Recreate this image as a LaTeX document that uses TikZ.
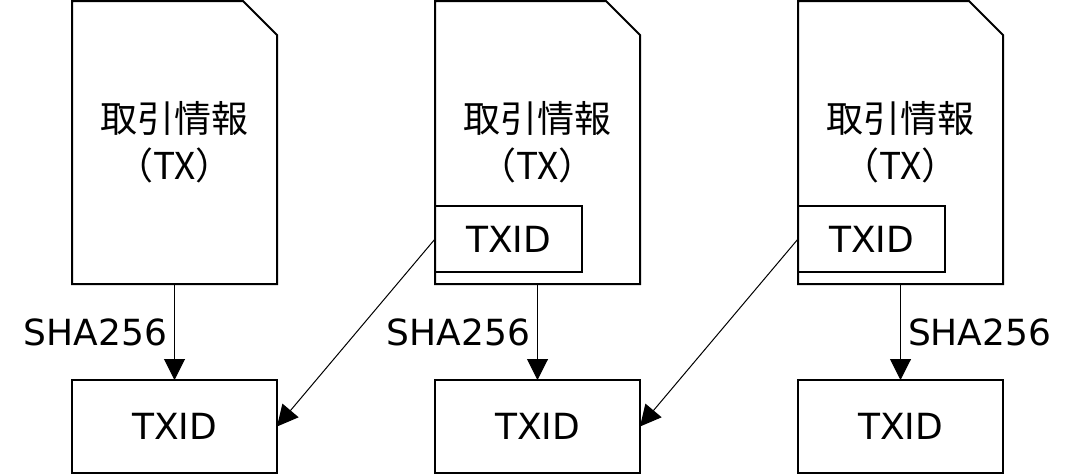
\documentclass[tikz,border=0pt]{standalone}
\usepackage{fontspec}
\setmainfont{DejaVu Sans}
\newfontfamily\jpfont{Noto Sans CJK JP}
\usetikzlibrary{arrows.meta,positioning}
\tikzset{
  doc/.style={outer sep=0pt,inner sep=0pt,
    minimum width=205pt,minimum height=283pt,align=center,
    font=\jpfont\fontsize{37}{47}\selectfont},
  outline/.style={draw,line width=2pt,line join=miter},
  idbox/.style={draw,line width=2pt,outer sep=0pt,inner sep=0pt,
    minimum width=147pt,minimum height=66pt,font=\fontsize{36}{43}\selectfont},
  txbox/.style={draw,line width=2pt,outer sep=0pt,inner sep=0pt,
    minimum width=205pt,minimum height=93pt,font=\fontsize{36}{43}\selectfont},
  flow/.style={-{Triangle[length=21pt,width=21pt]},line width=1pt},
  note/.style={font=\fontsize{36}{43}\selectfont,inner sep=7pt}
}
\begin{document}
\begin{tikzpicture}[x=1pt,y=-1pt,node distance=96pt and 158pt]
  \useasboundingbox (0,0) rectangle (1076,475);
  \node[doc] (doc1) at (174.5,142.5) {取引情報\\（TX）};
  \node[doc, right=of doc1] (doc2) {取引情報\\（TX）};
  \node[doc, right=of doc2] (doc3) {取引情報\\（TX）};
  \foreach \d in {doc1,doc2,doc3}
    \draw[outline] (\d.south west) |- ([xshift=-34pt]\d.north east)
      -- ([yshift=-34pt]\d.north east) -- (\d.south east) -- cycle;
  \node[idbox, above right=12pt and 0pt of doc2.south west] (in2) {TXID};
  \node[idbox, above right=12pt and 0pt of doc3.south west] (in3) {TXID};
  \node[txbox, below=of doc1] (tx1) {TXID};
  \node[txbox, below=of doc2] (tx2) {TXID};
  \node[txbox, below=of doc3] (tx3) {TXID};
  \draw[flow] (doc1) -- node[note,left]{SHA256} (tx1);
  \draw[flow] (doc2) -- node[note,left]{SHA256} (tx2);
  \draw[flow] (doc3) -- node[note,right]{SHA256} (tx3);
  \draw[flow] (in2.west) -- (tx1.east);
  \draw[flow] (in3.west) -- (tx2.east);
\end{tikzpicture}
\end{document}
